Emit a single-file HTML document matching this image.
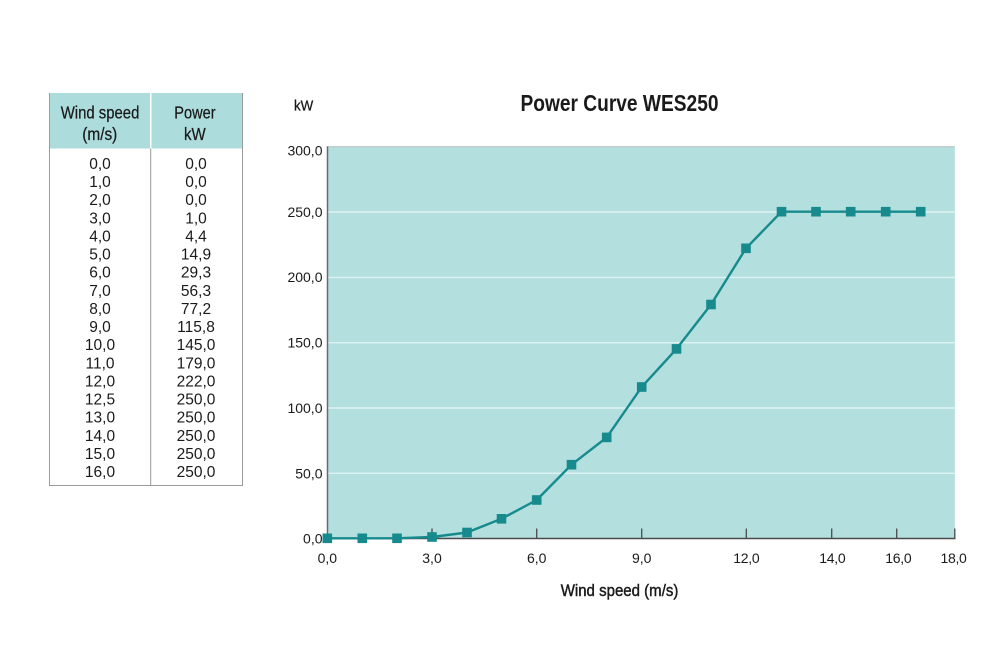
<!DOCTYPE html>
<html>
<head>
<meta charset="utf-8">
<style>
  html, body { margin: 0; padding: 0; background: #ffffff; }
  svg { display: block; }
  text { font-family: "Liberation Sans", Arial, sans-serif; fill: #1a1a1a; }
</style>
</head>
<body>
<svg width="1000" height="666" viewBox="0 0 1000 666" xmlns="http://www.w3.org/2000/svg">
  <rect x="0" y="0" width="1000" height="666" fill="#ffffff"/>

  <!-- ===== TABLE ===== -->
  <rect x="49" y="93" width="194" height="55.5" fill="#acdcdc"/>
  <line x1="150.7" y1="93" x2="150.7" y2="148.5" stroke="#ffffff" stroke-width="1.5"/>
  <line x1="49.5" y1="93" x2="49.5" y2="485.5" stroke="#9a9a9a" stroke-width="1"/>
  <line x1="242.5" y1="93" x2="242.5" y2="485.5" stroke="#9a9a9a" stroke-width="1"/>
  <line x1="150.7" y1="148.5" x2="150.7" y2="485.5" stroke="#9a9a9a" stroke-width="1"/>
  <line x1="49" y1="485.5" x2="243" y2="485.5" stroke="#9a9a9a" stroke-width="1"/>

  <g font-size="17.5" text-anchor="start" stroke="#1a1a1a" stroke-width="0.25">
    <text x="60.7" y="118.3" textLength="78.7" lengthAdjust="spacingAndGlyphs">Wind speed</text>
    <text x="82.3" y="140" textLength="35" lengthAdjust="spacingAndGlyphs">(m/s)</text>
    <text x="174.3" y="118.3" textLength="41.3" lengthAdjust="spacingAndGlyphs">Power</text>
    <text x="184" y="140" textLength="21.7" lengthAdjust="spacingAndGlyphs">kW</text>
  </g>

  <g font-size="15.5" text-anchor="middle">
    <text x="100" y="169">0,0</text>
    <text x="100" y="187.1">1,0</text>
    <text x="100" y="205.2">2,0</text>
    <text x="100" y="223.4">3,0</text>
    <text x="100" y="241.5">4,0</text>
    <text x="100" y="259.6">5,0</text>
    <text x="100" y="277.7">6,0</text>
    <text x="100" y="295.8">7,0</text>
    <text x="100" y="313.9">8,0</text>
    <text x="100" y="332.1">9,0</text>
    <text x="100" y="350.2">10,0</text>
    <text x="100" y="368.3">11,0</text>
    <text x="100" y="386.4">12,0</text>
    <text x="100" y="404.5">12,5</text>
    <text x="100" y="422.6">13,0</text>
    <text x="100" y="440.8">14,0</text>
    <text x="100" y="458.9">15,0</text>
    <text x="100" y="477">16,0</text>
  </g>
  <g font-size="15.5" text-anchor="middle">
    <text x="196" y="169">0,0</text>
    <text x="196" y="187.1">0,0</text>
    <text x="196" y="205.2">0,0</text>
    <text x="196" y="223.4">1,0</text>
    <text x="196" y="241.5">4,4</text>
    <text x="196" y="259.6">14,9</text>
    <text x="196" y="277.7">29,3</text>
    <text x="196" y="295.8">56,3</text>
    <text x="196" y="313.9">77,2</text>
    <text x="196" y="332.1">115,8</text>
    <text x="196" y="350.2">145,0</text>
    <text x="196" y="368.3">179,0</text>
    <text x="196" y="386.4">222,0</text>
    <text x="196" y="404.5">250,0</text>
    <text x="196" y="422.6">250,0</text>
    <text x="196" y="440.8">250,0</text>
    <text x="196" y="458.9">250,0</text>
    <text x="196" y="477">250,0</text>
  </g>

  <!-- ===== CHART ===== -->
  <text x="520.5" y="111" font-size="23" font-weight="bold" textLength="198" lengthAdjust="spacingAndGlyphs">Power Curve WES250</text>
  <text x="294" y="110.7" font-size="15" textLength="19.3" lengthAdjust="spacingAndGlyphs" stroke="#1a1a1a" stroke-width="0.3">kW</text>

  <!-- plot area -->
  <rect x="327.3" y="146.4" width="627.5" height="391.9" fill="#b3dfdf"/>
  <line x1="327.3" y1="146.6" x2="954.8" y2="146.6" stroke="#c4c9c9" stroke-width="1.2"/>

  <!-- gridlines -->
  <g stroke="#dff3f3" stroke-width="1.4">
    <line x1="328" y1="473.3" x2="954.8" y2="473.3"/>
    <line x1="328" y1="408" x2="954.8" y2="408"/>
    <line x1="328" y1="342.7" x2="954.8" y2="342.7"/>
    <line x1="328" y1="277.4" x2="954.8" y2="277.4"/>
    <line x1="328" y1="212" x2="954.8" y2="212"/>
  </g>

  <!-- axes -->
  <line x1="327.5" y1="146.4" x2="327.5" y2="538.8" stroke="#6a6a6a" stroke-width="1.5"/>
  <line x1="327" y1="538.5" x2="955.5" y2="538.5" stroke="#4a4a4a" stroke-width="1.6"/>
  <g stroke="#4a4a4a" stroke-width="1.3">
    <line x1="432" y1="528.5" x2="432" y2="538.5"/>
    <line x1="536.7" y1="528.5" x2="536.7" y2="538.5"/>
    <line x1="641.7" y1="528.5" x2="641.7" y2="538.5"/>
    <line x1="746.3" y1="528.5" x2="746.3" y2="538.5"/>
    <line x1="831.7" y1="528.5" x2="831.7" y2="538.5"/>
    <line x1="896.7" y1="528.5" x2="896.7" y2="538.5"/>
    <line x1="954.8" y1="528.5" x2="954.8" y2="538.5"/>
  </g>

  <!-- y tick labels -->
  <g font-size="14" text-anchor="end">
    <text x="322.5" y="155.5">300,0</text>
    <text x="322.5" y="216.8">250,0</text>
    <text x="322.5" y="282.2">200,0</text>
    <text x="322.5" y="347.5">150,0</text>
    <text x="322.5" y="412.8">100,0</text>
    <text x="322.5" y="478.3">50,0</text>
    <text x="322.5" y="543.3">0,0</text>
  </g>

  <!-- x tick labels -->
  <g font-size="14" text-anchor="middle">
    <text x="327.3" y="563">0,0</text>
    <text x="432" y="563">3,0</text>
    <text x="536.7" y="563">6,0</text>
    <text x="641.7" y="563">9,0</text>
    <text x="746.3" y="563" letter-spacing="-0.3">12,0</text>
    <text x="832.3" y="563" letter-spacing="-0.3">14,0</text>
    <text x="898.3" y="563" letter-spacing="-0.3">16,0</text>
    <text x="953.5" y="563" letter-spacing="-0.3">18,0</text>
  </g>

  <text x="560.7" y="596" font-size="16.5" textLength="117.7" lengthAdjust="spacingAndGlyphs" stroke="#1a1a1a" stroke-width="0.45">Wind speed (m/s)</text>

  <!-- series -->
  <polyline fill="none" stroke="#168a8c" stroke-width="2.4" stroke-linejoin="round"
    points="327.3,538.3 362.3,538.3 397,538.3 432,537 467,532.5 501.5,518.8 536.7,500 571.5,464.7 606.7,437.4 641.7,387 676.5,348.9 711,304.5 746,248.3 781.5,211.7 816,211.7 850.7,211.7 885.7,211.7 920.7,211.7"/>
  <g fill="#168a8c">
    <rect x="322.5" y="533.5" width="9.6" height="9.6"/>
    <rect x="357.5" y="533.5" width="9.6" height="9.6"/>
    <rect x="392.2" y="533.5" width="9.6" height="9.6"/>
    <rect x="427.2" y="532.2" width="9.6" height="9.6"/>
    <rect x="462.2" y="527.7" width="9.6" height="9.6"/>
    <rect x="496.7" y="514" width="9.6" height="9.6"/>
    <rect x="531.9" y="495.2" width="9.6" height="9.6"/>
    <rect x="566.7" y="459.9" width="9.6" height="9.6"/>
    <rect x="601.9" y="432.6" width="9.6" height="9.6"/>
    <rect x="636.9" y="382.2" width="9.6" height="9.6"/>
    <rect x="671.7" y="344.1" width="9.6" height="9.6"/>
    <rect x="706.2" y="299.7" width="9.6" height="9.6"/>
    <rect x="741.2" y="243.5" width="9.6" height="9.6"/>
    <rect x="776.7" y="206.9" width="9.6" height="9.6"/>
    <rect x="811.2" y="206.9" width="9.6" height="9.6"/>
    <rect x="845.9" y="206.9" width="9.6" height="9.6"/>
    <rect x="880.9" y="206.9" width="9.6" height="9.6"/>
    <rect x="915.9" y="206.9" width="9.6" height="9.6"/>
  </g>
</svg>
</body>
</html>
